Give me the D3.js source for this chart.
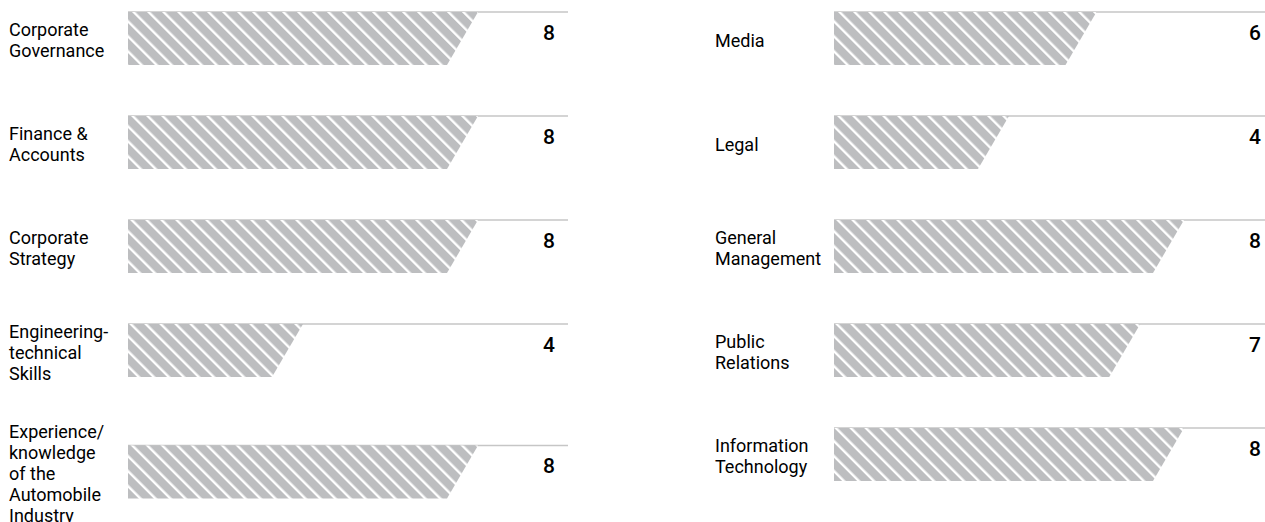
<!DOCTYPE html>
<html>
<head>
<meta charset="utf-8">
<script src="https://cdn.jsdelivr.net/npm/d3@7"></script>
<style>
  html, body { margin: 0; padding: 0; background: #fff; }
  svg { display: block; }
  .cat { font-family: Roboto, "Open Sans", sans-serif; font-size: 18px; font-weight: 400; fill: #000; }
  .val { font-family: Roboto, "Open Sans", sans-serif; font-size: 21px; font-weight: 500; fill: #000; }
</style>
</head>
<body>
<svg id="chart" width="1265" height="522"></svg>
<script>
// Competence areas and the number of members covering each one
const leftCategories = [
  "Corporate\nGovernance",
  "Finance &\nAccounts",
  "Corporate\nStrategy",
  "Engineering-\ntechnical\nSkills",
  "Experience/\nknowledge\nof the\nAutomobile\nIndustry"
];
const leftValues = [8, 8, 8, 4, 8];

const rightCategories = [
  "Media",
  "Legal",
  "General\nManagement",
  "Public\nRelations",
  "Information\nTechnology"
];
const rightValues = [6, 4, 8, 7, 8];

const maxValue = 10;

const svg = d3.select("#chart");

// diagonal hatch fill for the bars
const defs = svg.append("defs");
const pat = defs.append("pattern")
  .attr("id", "hatch")
  .attr("patternUnits", "userSpaceOnUse")
  .attr("width", 10.6)
  .attr("height", 10.6)
  .attr("patternTransform", "rotate(-45)");
pat.append("rect").attr("width", 10.6).attr("height", 10.6).attr("fill", "#bdbec0");
pat.append("rect").attr("x", 0).attr("y", 0).attr("width", 2.4).attr("height", 10.6).attr("fill", "#fff");

const barH = 53, gap = 51, lineH = 21, slant = 31;

function drawPanel(offsetX, categories, values) {
  const g = svg.append("g").attr("transform", `translate(${offsetX},0)`);
  const x = d3.scaleLinear().domain([0, maxValue]).range([128, 565.5]);
  const lineEnd = 568;

  let top = 12;
  categories.forEach((cat, i) => {
    const lines = cat.split("\n");
    const blockH = Math.max(barH, (lines.length - 1) * lineH + 4);
    const cy = top + blockH / 2;
    const bTop = cy - barH / 2, bBot = cy + barH / 2;
    const v = values[i];

    // baseline rule
    g.append("line")
      .attr("x1", x(0)).attr("x2", lineEnd)
      .attr("y1", bTop).attr("y2", bTop)
      .attr("stroke", "#c6c6c6").attr("stroke-width", 1.5);

    // slanted bar
    const xe = x(v);
    g.append("path")
      .attr("d", `M${x(0)},${bTop}L${xe},${bTop}L${xe - slant},${bBot}L${x(0)},${bBot}Z`)
      .attr("fill", "url(#hatch)");

    // category label
    const t = g.append("text").attr("class", "cat").attr("x", 9);
    const y0 = cy - (lines.length - 1) * lineH / 2 + 8;
    lines.forEach((ln, j) => {
      t.append("tspan").attr("x", 9).attr("y", y0 + j * lineH).text(ln);
    });

    // value label
    g.append("text").attr("class", "val")
      .attr("x", 555).attr("y", cy + 1)
      .attr("text-anchor", "end")
      .text(v);

    top += blockH + gap;
  });
}

drawPanel(0, leftCategories, leftValues);
drawPanel(706, rightCategories, rightValues);
</script>
</body>
</html>
